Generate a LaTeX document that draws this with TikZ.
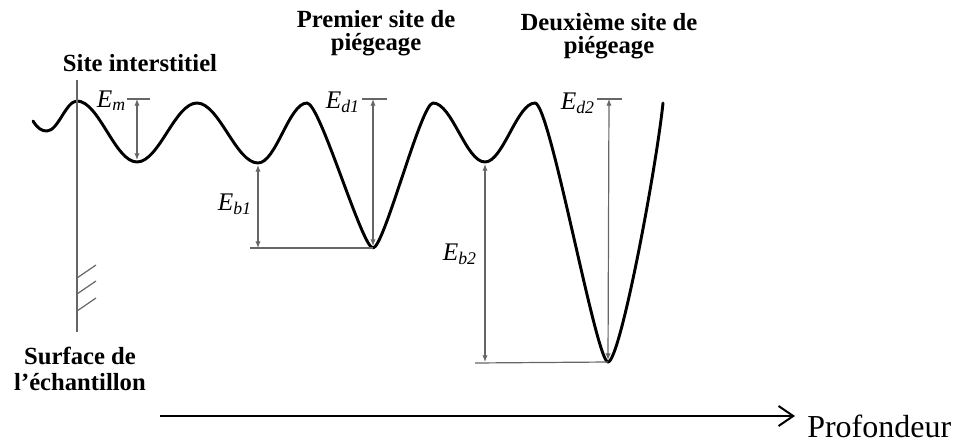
\documentclass[tikz,border=0pt]{standalone}
\usepackage{fontspec}
\setmainfont{Liberation Serif}
\usetikzlibrary{arrows.meta, positioning}

\begin{document}
\begin{tikzpicture}[
    x=0.75pt, y=-0.75pt,
    site/.style={font=\bfseries\fontsize{18.5}{17}\selectfont, align=center, inner sep=0pt},
    elab/.style={font=\itshape\fontsize{19}{19}\selectfont, inner sep=0pt, anchor=base east},
    well/.style={line width=2.2pt, line join=round, line cap=round},
    ref/.style={draw=black!60, line width=0.9pt},
    earr/.style={ref, {Latex[length=5pt,width=4pt]}-{Latex[length=5pt,width=4pt]}},
    depth/.style={-{Straight Barb[length=11pt,width=15pt]}, line width=1.5pt}
]
\useasboundingbox (0,0) rectangle (967,443);

\coordinate (s0) at (33,121);
\coordinate (m0) at (47,131);
\coordinate (p0) at (77,101);
\coordinate (m1) at (137,162);
\coordinate (p1) at (197,103);
\coordinate (m2) at (258,163);
\coordinate (p2) at (307,103);
\coordinate (t1) at (373,248);
\coordinate (p3) at (433,103);
\coordinate (m3) at (485,162);
\coordinate (p4) at (535,103);
\coordinate (t2) at (608,362);
\coordinate (e0) at (663,103);

\draw[well] (s0) .. controls (38,129) and (42,131) .. (m0)
    .. controls (58,131) and (66,101) .. (p0)
    .. controls (99,101) and (115,162) .. (m1)
    .. controls (159,162) and (175,103) .. (p1)
    .. controls (219,103) and (236,163) .. (m2)
    .. controls (276,163) and (289,103) .. (p2)
    .. controls (320,103) and (362,248) .. (t1)
    .. controls (384,248) and (421,103) .. (p3)
    .. controls (452,103) and (466,162) .. (m3)
    .. controls (503,162) and (517,103) .. (p4)
    .. controls (550,103) and (596,362) .. (t2)
    .. controls (620,362) and (656,170) .. (e0);

\coordinate (stop) at (77,80);
\coordinate (sbot) at (77,332);
\draw[ref] (stop) -- (sbot);
\foreach \y in {278,294,311}
    \draw[ref] (77,\y) -- ++(19,-13);

\coordinate (tm) at (137,99);
\coordinate (td1) at (373,99);
\coordinate (td2) at (609,99);
\coordinate (bb1) at (250,248);
\coordinate (bb2) at (475,363);

\draw[ref] (tm) +(-10,0) -- +(13,0);
\draw[ref] (td1) +(-11,0) -- +(14,0);
\draw[ref] (td2) +(-12,0) -- +(13,0);
\draw[ref] (bb1) -- (t1);
\draw[ref] (bb2) -- (t2);

\draw[earr, shorten >=1.5pt] (tm) -- (m1);
\draw[earr, shorten >=1.5pt] (td1) -- (t1);
\draw[earr, shorten >=1.5pt] (td2) -- (t2);
\draw[earr, shorten <=1.5pt] (m2) -- (m2 |- t1);
\draw[earr, shorten <=1.5pt] (m3) -- (m3 |- t2);

\node[elab] (em) at (126,107) {E\textsubscript{m}};
\node[elab] (ed1) at (360,108) {E\textsubscript{d1}};
\node[elab] (ed2) at (595,109) {E\textsubscript{d2}};
\node[elab] (eb1) at (252,210) {E\textsubscript{b1}};
\node[elab] (eb2) at (477,260) {E\textsubscript{b2}};

\node[site, anchor=base] (inter) at (140,71) {Site interstitiel};
\node[site] (piege1) at (376,33) {Premier site de\\piégeage};
\node[site] (piege2) at (609,36) {Deuxième site de\\piégeage};
\node[site, font=\bfseries\fontsize{18.5}{19.5}\selectfont] (surf) at (80,369) {Surface de\\l’échantillon};

\coordinate (d0) at (160,416);
\coordinate (d1) at (795,416);
\draw[depth] (d0) -- (d1);
\node[anchor=base west, inner sep=0pt, font=\fontsize{24}{26}\selectfont] (prof) at (807,437) {Profondeur};
\end{tikzpicture}
\end{document}
